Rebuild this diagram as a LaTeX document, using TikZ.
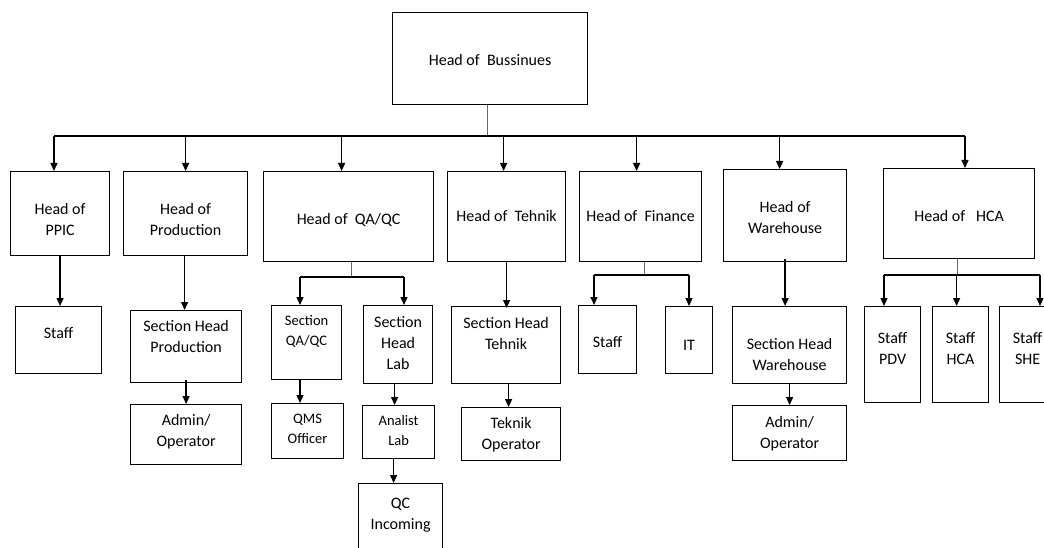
\documentclass[tikz,border=0pt]{standalone}
\usepackage{fontspec}
\setmainfont{Carlito}
\usetikzlibrary{arrows.meta}

\tikzset{
	box/.style = {draw, line width=1.2pt, inner xsep=2pt, inner ysep=0pt, align=center, anchor=north west,
	font=\fontsize{16}{21}\selectfont},
	boxsize/.style n args = {3}{minimum width=#1pt, text height=#2pt, text depth=#3pt},
	small/.style = {font=\fontsize{14.5}{20}\selectfont},
	arr/.style = {-{Triangle[length=8pt, width=7pt]}, line width=1.3pt},
	bar/.style = {line width=1.3pt},
	stub/.style = {draw=black!60, line width=1pt}
}

\begin{document}
\begin{tikzpicture} [x=1pt, y=-1pt]
		% Page frame
		\useasboundingbox (0,0) rectangle (1044,548);
		\clip (0,0) rectangle (1044,548);

		% Top Node
		\node (bus) [box, boxsize={195}{53}{39}] at (392,12) {Head of\ \ Bussinues};

		% Heads
		\node (ppic) [box, boxsize={99}{64}{20}] at (10,171) {Head of\\PPIC};
		\node (prod) [box, boxsize={124}{64}{20}] at (123,171) {Head of\\Production};
		\node (qa) [box, boxsize={170}{53}{37}] at (263,171) {Head of\ \ QA/QC};
		\node (tek) [box, boxsize={118}{50}{40}] at (447,171) {Head of\ \ Tehnik};
		\node (fin) [box, boxsize={122}{50}{40}] at (579,171) {Head of\ \ Finance};
		\node (wh) [box, boxsize={123}{64}{28}] at (723,169) {Head of\\Warehouse};
		\node (hca) [box, boxsize={151}{53}{37}] at (883,168) {Head of\ \ \ HCA};

		% Sections and Staff
		\node (ppics) [box, boxsize={86}{32}{35}] at (15,306) {Staff};
		\node (shp) [box, boxsize={111}{42}{30}] at (130,310) {Section Head\\Production};
		\node (shpa) [box, boxsize={111}{42}{18}] at (130,404) {Admin/\\Operator};
		\node (sqa) [box, small, boxsize={70}{40}{34}] at (271,305) {Section\\QA/QC};
		\node (qms) [box, small, boxsize={72}{40}{15}] at (271,403) {QMS\\Officer};
		\node (shl) [box, boxsize={69}{64}{14}] at (363,305) {Section\\Head\\Lab};
		\node (anl) [box, small, boxsize={72}{40}{13}] at (362,405) {Analist\\Lab};
		\node (qci) [box, boxsize={84}{46}{36}] at (358,483) {QC\\Incoming};
		\node (sht) [box, boxsize={109}{43}{34}] at (451,306) {Section Head\\Tehnik};
		\node (tko) [box, boxsize={99}{42}{11}] at (461,407) {Teknik\\Operator};
		\node (fst) [box, boxsize={58}{42}{26}] at (578,305) {Staff};
		\node (fit) [box, boxsize={47}{44}{23}] at (665,306) {IT};
		\node (shw) [box, boxsize={114}{64}{13}] at (732,306) {Section Head\\Warehouse};
		\node (wha) [box, boxsize={114}{43}{12}] at (732,405) {Admin/\\Operator};
		\node (pdv) [box, boxsize={56}{58}{38}] at (864,306) {Staff\\PDV};
		\node (hcs) [box, boxsize={56}{58}{38}] at (932,306) {Staff\\HCA};
		\node (she) [box, boxsize={56}{58}{38}] at (999,306) {Staff\\SHE};

		% Branch points
		\coordinate (busL) at (54,136);
		\coordinate (busR) at (965,136);
		\coordinate (qaL) at (300,277);
		\coordinate (qaR) at (404,277);
		\coordinate (finL) at (594,275);
		\coordinate (finR) at (689,275);
		\coordinate (hcaL) at (884,275);
		\coordinate (hcaR) at (1040,275);

		% Bars
		\draw [stub] ([xshift=-2.5pt]bus.south) -- ([xshift=-2.5pt]bus.south |- busL);
		\draw [bar] (busL) -- (busR);
		\draw [stub] ([xshift=3pt]qa.south) -- ([xshift=3pt]qa.south |- qaL);
		\draw [bar] (qaL) -- (qaR);
		\draw [stub] ([xshift=4pt]fin.south) -- ([xshift=4pt]fin.south |- finL);
		\draw [bar] (finL) -- (finR);
		\draw [stub] ([xshift=-1.5pt]hca.south) -- ([xshift=-1.5pt]hca.south |- hcaL);
		\draw [bar] (hcaL) -- (hcaR);

		% Draw Arrows
		\path [arr]
		(busL) edge (busL |- ppic.north)
		(prod.north |- busL) edge (prod.north)
		([xshift=-7pt]qa.north |- busL) edge ([xshift=-7pt]qa.north)
		([xshift=-3pt]tek.north |- busL) edge ([xshift=-3pt]tek.north)
		([xshift=-4pt]fin.north |- busL) edge ([xshift=-4pt]fin.north)
		([xshift=-5.5pt]wh.north |- busL) edge ([xshift=-5.5pt]wh.north)
		(busR) edge (busR |- hca.north)

		(ppic.south) edge (ppic.south |- ppics.north)
		([xshift=-1pt]prod.south) edge ([xshift=-1pt]prod.south |- shp.north)
		([yshift=3pt]shp.south) edge (shp.south |- shpa.north)

		(qaL) edge (qaL |- sqa.north)
		(qaR) edge (qaR |- shl.north)
		(qaL |- sqa.south) edge (qaL |- qms.north)
		([xshift=-3.5pt]shl.south) edge ([xshift=-3.5pt]shl.south |- anl.north)
		([xshift=-5pt]anl.south) edge ([xshift=-5pt]anl.south |- qci.north)

		(tek.south) edge ([yshift=-2pt]tek.south |- sht.north)
		([xshift=2.5pt]sht.south) edge ([xshift=2.5pt]sht.south |- tko.north)

		(finL) edge (finL |- fst.north)
		(finR) edge (finR |- fit.north)

		([yshift=3pt]wh.south) edge (wh.south |- shw.north)
		(shw.south) edge (shw.south |- wha.north)

		(hcaL) edge (hcaL |- pdv.north)
		([xshift=-2.5pt]hca.south |- hcaL) edge ([xshift=-2.5pt]hca.south |- hcs.north)
		(hcaR) edge (hcaR |- she.north);
	\end{tikzpicture}
\end{document}
